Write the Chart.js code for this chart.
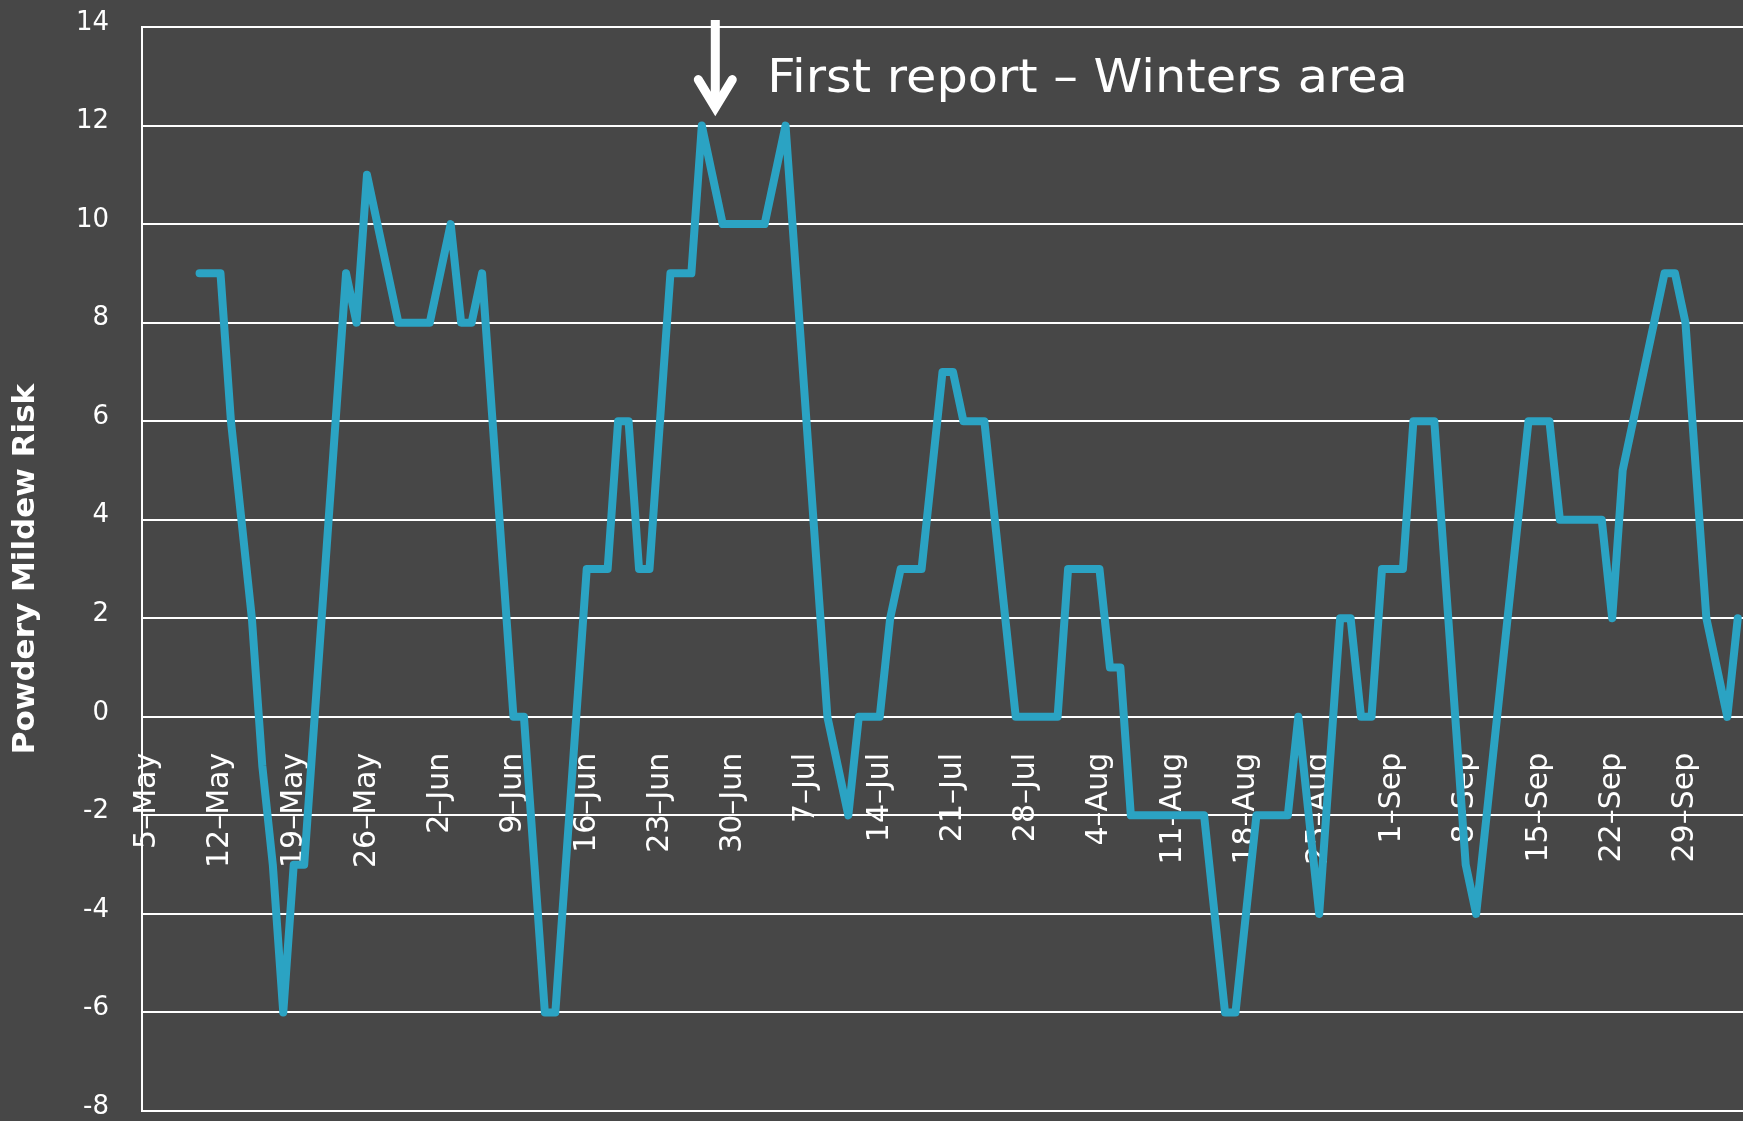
<!DOCTYPE html>
<html>
<head>
<meta charset="utf-8">
<script src="https://cdn.jsdelivr.net/npm/chart.js@4.4.1/dist/chart.umd.min.js"></script>
<style>
html,body{margin:0;padding:0;background:#474747;overflow:hidden}
canvas{display:block}
</style>
</head>
<body>
<canvas id="c" width="1743" height="1121"></canvas>
<script>
// ---- categories (daily) ----
const monthNames    = ['May','Jun','Jul','Aug','Sep','Oct'];
const monthFirstDay = [5, 1, 1, 1, 1, 1];
const monthLastDay  = [31, 30, 31, 31, 30, 4];

// ---- series values, one array per month ----
const riskMay = [null,null,null,null,null, 9,9,9,6,4,2,-1,-3,-6,-3,-3,0,3,6,9,8,11,10,9,8,8,8];
const riskJun = [8,9,10,8,8,9,6,3,0,0,-3,-6,-6,-3,0,3,3,3,6,6,3,3,6,9,9,9,12,11,10,10];
const riskJul = [10,10,10,11,12,9,6,3,0,-1,-2,0,0,0,2,3,3,3,5,7,7,6,6,6,4,2,0,0,0,0,0];
const riskAug = [3,3,3,3,1,1,-2,-2,-2,-2,-2,-2,-2,-2,-4,-6,-6,-4,-2,-2,-2,-2,0,-2,-4,-1,2,2,0,0,3];
const riskSep = [3,3,6,6,6,3,0,-3,-4,-2,0,2,4,6,6,6,4,4,4,4,4,2,5,6,7,8,9,9,8,5];
const riskOct = [2,1,0,2];

// ---- tick labels ----
const tickLabels = ['5–May','12–May','19–May','26–May','2–Jun','9–Jun','16–Jun','23–Jun','30–Jun',
  '7–Jul','14–Jul','21–Jul','28–Jul','4–Aug','11–Aug','18–Aug','25–Aug','1–Sep','8–Sep',
  '15–Sep','22–Sep','29–Sep'];
const yMin = -8, yMax = 14, yStep = 2;

const yTitle = 'Powdery Mildew Risk';
const noteText = 'First report – Winters area';
const noteCategory = '28–Jun';
const noteTipValue = 12;

const categories = [];
monthNames.forEach((m, i) => {
  for (let d = monthFirstDay[i]; d <= monthLastDay[i]; d++) categories.push(d + '–' + m);
});
const risk = [].concat(riskMay, riskJun, riskJul, riskAug, riskSep, riskOct);

const FONT = '"DejaVu Sans", "Open Sans", sans-serif';
const WHITE = '#ffffff';

const notePlugin = {
  id: 'note',
  afterDraw(chart) {
    const {ctx, scales: {x, y}, chartArea} = chart;
    const ax = x.getPixelForValue(categories.indexOf(noteCategory)) + 3;
    const top = chartArea.top - 7;
    const tip = y.getPixelForValue(noteTipValue) - 9;
    const vy = tip - 9;
    ctx.save();
    ctx.strokeStyle = WHITE;
    ctx.fillStyle = WHITE;
    ctx.lineWidth = 9;
    ctx.lineCap = 'butt';
    ctx.beginPath();
    ctx.moveTo(ax, top);
    ctx.lineTo(ax, vy);
    ctx.stroke();
    ctx.lineCap = 'round';
    ctx.lineJoin = 'miter';
    ctx.miterLimit = 10;
    ctx.beginPath();
    ctx.moveTo(ax - 17, vy - 28);
    ctx.lineTo(ax, vy);
    ctx.lineTo(ax + 17, vy - 28);
    ctx.stroke();
    ctx.font = '47px ' + FONT;
    ctx.textAlign = 'left';
    ctx.textBaseline = 'alphabetic';
    ctx.translate(ax + 52, chartArea.top + 65);
    ctx.scale(1.05, 1);
    ctx.fillText(noteText, 0, 0);
    ctx.restore();
  }
};

new Chart(document.getElementById('c'), {
  type: 'line',
  data: {
    labels: categories,
    datasets: [{
      label: yTitle,
      data: risk,
      borderColor: '#2ba3c3',
      backgroundColor: '#2ba3c3',
      borderWidth: 8,
      pointRadius: 0,
      pointHoverRadius: 0,
      tension: 0,
      fill: false,
      borderCapStyle: 'round',
      borderJoinStyle: 'round',
      spanGaps: false
    }]
  },
  options: {
    responsive: false,
    animation: false,
    devicePixelRatio: 1,
    layout: { padding: { left: 7, right: 0, top: 27, bottom: 10 } },
    plugins: { legend: { display: false }, tooltip: { enabled: false } },
    scales: {
      x: {
        type: 'category',
        position: { y: 0 },
        offset: true,
        grid: { display: false, drawTicks: false },
        border: { display: false },
        ticks: {
          autoSkip: false,
          maxRotation: 90,
          minRotation: 90,
          padding: 36,
          color: WHITE,
          font: { family: FONT, size: 30 },
          callback: function (v, i) {
            const lab = categories[i];
            return tickLabels.includes(lab) ? lab : '';
          }
        },
        afterFit(scale) {
          scale.paddingLeft = 0; scale.paddingRight = 0;
          scale.paddingTop = 0; scale.paddingBottom = 0;
        }
      },
      y: {
        min: yMin,
        max: yMax,
        grid: { color: WHITE, lineWidth: 2, drawTicks: false },
        border: { display: true, color: WHITE, width: 2 },
        ticks: {
          stepSize: yStep,
          padding: 33,
          labelOffset: -4,
          color: WHITE,
          font: { family: FONT, size: 26 }
        },
        title: {
          display: true,
          text: yTitle,
          color: WHITE,
          padding: { top: 0, bottom: 0 },
          font: { family: FONT, size: 31, weight: 'bold', lineHeight: 1.2 }
        },
        afterFit(scale) {
          scale.width = 135;
          scale.paddingTop = 0; scale.paddingBottom = 0;
        }
      }
    }
  },
  plugins: [notePlugin]
});
</script>
</body>
</html>
